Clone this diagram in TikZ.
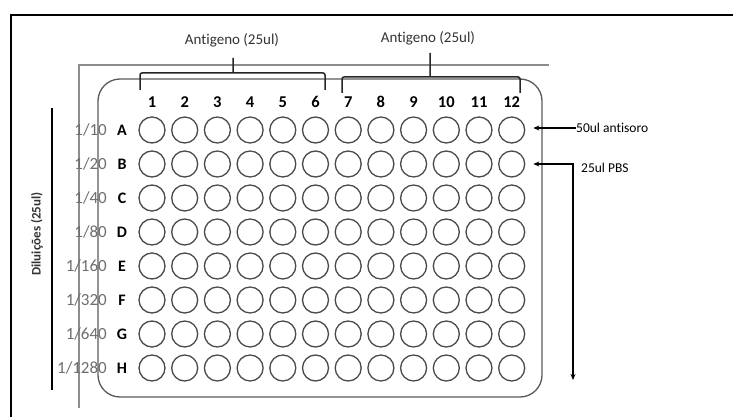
\documentclass[tikz,border=0pt]{standalone}
\usepackage{fontspec}
\setmainfont{Carlito}[Ligatures=NoCommon]
\usepackage{xcolor}
\definecolor{plaqueBord}{HTML}{5A5A5A}
\definecolor{puitsBord}{HTML}{4A4A4A}
\definecolor{equerreGris}{HTML}{8C8C8C}
\definecolor{dilutionGris}{HTML}{6E6E6E}
\usepackage{tikz}
\usetikzlibrary{arrows.meta, calc}
\tikzset{
  %% ── Plate ────────────────────────────────────────────────────────────
  plaque/.style     = {draw=plaqueBord, line width=1.3pt, rounded corners=22pt},
  puits/.style      = {circle, draw=puitsBord, line width=1.3pt,
                       minimum size=26pt, inner sep=0pt},
  equerre/.style    = {draw=equerreGris, line width=1.8pt},
  cadre/.style      = {draw=black, line width=1.8pt},
  %%
  %% ── Text ─────────────────────────────────────────────────────────────
  numCol/.style     = {font=\fontsize{16.5}{18}\selectfont\bfseries, inner sep=0pt},
  lettreLigne/.style= {font=\fontsize{16}{18}\selectfont\bfseries, inner sep=0pt},
  dilution/.style   = {font=\fontsize{17}{19}\selectfont, text=dilutionGris,
                       inner sep=0pt, anchor=east},
  etiquette/.style  = {font=\fontsize{15}{17}\selectfont, text=black!80, inner sep=0pt},
  note/.style       = {font=\fontsize{13.5}{15}\selectfont, inner sep=0pt, anchor=west},
  %%
  %% ── Lines ────────────────────────────────────────────────────────────
  accolade/.style   = {draw=black!85, line width=1.5pt, rounded corners=2pt},
  fleche/.style     = {-{Stealth[length=6pt, width=5pt]}, draw=black, line width=1.3pt},
  flecheDouble/.style = {{Stealth[length=6pt, width=5pt]}-{Stealth[length=6pt, width=5pt]},
                       draw=black, line width=1.3pt},
}

\begin{document}
\begin{tikzpicture}[x=1pt, y=-1pt]
\useasboundingbox (0,0) rectangle (733,417);

%% frame and guides
\draw[cadre] (11,417) -- (11,15) -- (733,15);
\draw[equerre] (79,408) -- (79,65) -- (549,65);
\draw[plaque] (98,79) rectangle (542,397);
\draw[cadre] (52,108) -- (52,390);
\node[etiquette, rotate=90, font=\fontsize{13}{15}\selectfont\bfseries] (dil) at (37,234)
     {Diluições (25ul)};

%% antigen braces
\draw[accolade] (140,90) -- (140,73) -- (325,73) -- (325,90) (233,73) -- (233,58);
\draw[accolade] (342,93) -- (342,77) -- (520,77) -- (520,93) (430,77) -- (430,53);
\node[etiquette] (ag1) at (232,40) {Antigeno (25ul)};
\node[etiquette] (ag2) at (428,38) {Antigeno (25ul)};

%% columns, rows, wells
\foreach \c in {1,...,12}
  \node[numCol] (c\c) at (152+32.7*\c-32.7, 102) {\c};
\foreach \r/\d [count=\i from 0] in {A/10, B/20, C/40, D/80, E/160, F/320, G/640, H/1280} {
  \node[lettreLigne] (r\r) at (122, 130+34*\i) {\r};
  \node[dilution] (d\r) at (107, 130+34*\i) {1/\d};
  \foreach \c in {1,...,12}
    \node[puits] (w\r\c) at (152+32.7*\c-32.7, 130+34*\i) {};
}

%% additions
\node[note] (anti) at (576,128) {50ul antisoro};
\draw[fleche, shorten >=8pt] (anti.west) -- (anti.west -| wA12.east);
\node[note] (pbs) at (581,168) {25ul PBS};
\coordinate (basPBS) at (573,380);
\draw[flecheDouble, shorten <=8pt] (wB12.east) -- (wB12.east -| basPBS) -- (basPBS);

\end{tikzpicture}
\end{document}
